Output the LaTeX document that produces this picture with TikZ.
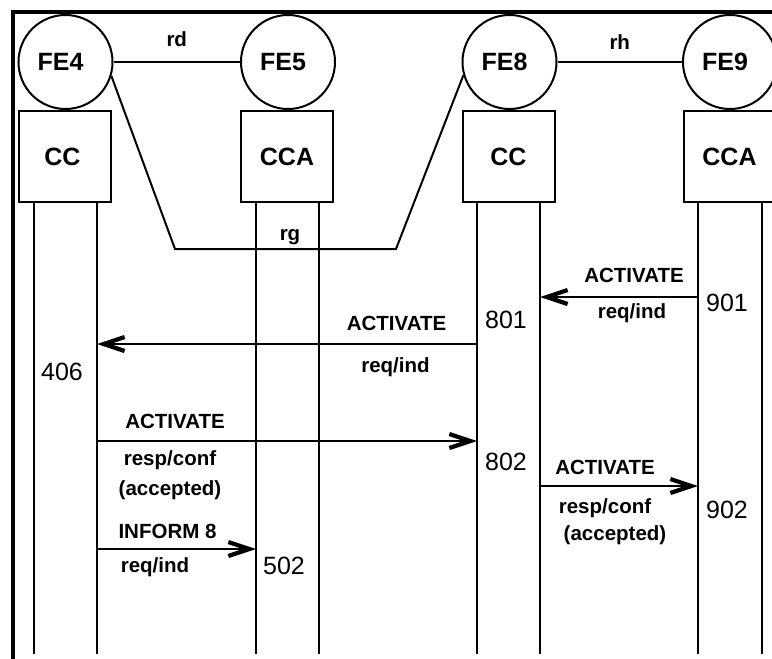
\documentclass[tikz,border=0pt]{standalone}
\usepackage{fontspec}
\setmainfont{Liberation Sans}
\usetikzlibrary{arrows.meta}
\begin{document}
\begin{tikzpicture}[x=1pt,y=-1pt,
  line width=2pt,
  fe/.style={circle,draw,minimum size=94pt,inner sep=0pt,font=\fontsize{25}{30}\selectfont\bfseries},
  unit/.style={rectangle,draw,minimum width=92pt,minimum height=91pt,inner sep=0pt,font=\fontsize{25}{30}\selectfont\bfseries},
  lbl/.style={inner sep=0pt,font=\fontsize{20.5}{24}\selectfont\bfseries},
  num/.style={inner sep=0pt,font=\fontsize{25}{30}\selectfont},
  msg/.style={line width=2.4pt,-{Straight Barb[length=21pt,width=14pt,line width=4.2pt]}},
  life/.style={line width=2pt},
  frame/.style={line width=3.5pt}
]
\useasboundingbox (0,0) rectangle (772,659);
% frame
\coordinate (fbl) at (13,659);
\coordinate (ftl) at (13,12);
\coordinate (ftr) at (772,12);
\draw[frame] (fbl) -- (ftl) -- (ftr);

% functional entities
\node[fe] (fe4) at (65.5,62) {\kern-10pt FE4};
\node[fe] (fe5) at (288,62) {\kern-10pt FE5};
\node[fe] (fe8) at (509.5,62) {\kern-10pt FE8};
\node[fe] (fe9) at (730,62) {\kern-10pt FE9};

\node[unit] (cc4) at (65,156.5) {\kern-5pt CC};
\node[unit] (cca5) at (287,156.5) {CCA};
\node[unit] (cc8) at (508.5,156.5) {CC};
\node[unit] (cca9) at (729.5,156.5) {CCA};

% relationships
\draw (fe4.east) -- node[lbl,above=14pt] (rd) {rd} (fe5.west);
\draw (fe8.east) -- node[lbl,above=12pt] (rh) {rh} (fe9.west);
\coordinate (rg1) at (175,249);
\coordinate (rg2) at (396,249);
\draw (fe4.-17) -- (rg1) -- (rg2) -- (fe8.196);
\node[lbl] (rg) at (290,237) {rg};

% lifelines
\coordinate (b4l) at (34,654);
\coordinate (b4r) at (97,654);
\coordinate (b5l) at (256,654);
\coordinate (b5r) at (319,654);
\coordinate (b8l) at (477,654);
\coordinate (b8r) at (540,654);
\coordinate (b9l) at (698,654);
\coordinate (b9r) at (762,654);
\foreach \u/\b in {cc4/b4l,cc4/b4r,cca5/b5l,cca5/b5r,cc8/b8l,cc8/b8r,cca9/b9l,cca9/b9r}
  \draw[life] (\u.south -| \b) -- (\b);

% message rows
\coordinate (y1) at (0,297);
\coordinate (y2) at (0,344);
\coordinate (y3) at (0,441);
\coordinate (y4) at (0,486);
\coordinate (y5) at (0,549);

% 901 -> 801
\draw[msg] (b9l |- y1) -- (b8r |- y1);
\node[lbl] (m1a) at (634,275) {ACTIVATE};
\node[lbl] (m1b) at (632,313) {req/ind};
\node[num] (n901) at (727,303) {901};

% 801 -> 406
\draw[msg] (b8l |- y2) -- (b4r |- y2);
\node[lbl] (m2a) at (396.5,323) {ACTIVATE};
\node[lbl] (m2b) at (395.5,367) {req/ind};
\node[num] (n801) at (506,320) {801};
\node[num] (n406) at (62,372) {406};

% 406 -> 802
\draw[msg] (b4r |- y3) -- (b8l |- y3);
\node[lbl] (m3a) at (175,421) {ACTIVATE};
\node[lbl] (m3b) at (170,460) {resp/conf};
\node[lbl] (m3c) at (170,490) {(accepted)};
\node[num] (n802) at (506,462) {802};

% 802 -> 902
\draw[msg] (b8r |- y4) -- (b9l |- y4);
\node[lbl] (m4a) at (605,467) {ACTIVATE};
\node[lbl] (m4b) at (605,508) {resp/conf};
\node[lbl] (m4c) at (615,535) {(accepted)};
\node[num] (n902) at (727,510) {902};

% 406 -> 502
\draw[msg] (b4r |- y5) -- (b5l |- y5);
\node[lbl] (m5a) at (167.5,531) {INFORM 8};
\node[lbl] (m5b) at (155,567) {req/ind};
\node[num] (n502) at (284,566) {502};
\end{tikzpicture}
\end{document}
